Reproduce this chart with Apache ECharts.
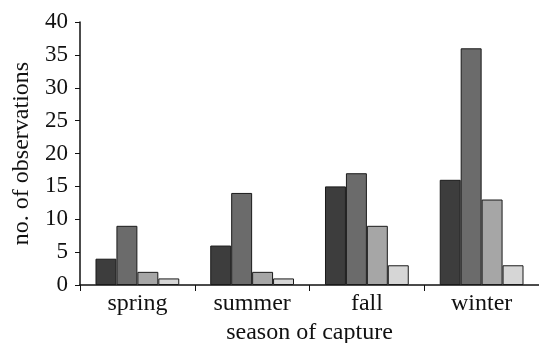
<!DOCTYPE html>
<html>
<head>
<meta charset="utf-8">
<script src="https://cdn.jsdelivr.net/npm/echarts@6/dist/echarts.min.js"></script>
<style>
  html, body { margin: 0; padding: 0; background: #fff; }
  #chart { width: 539px; height: 343px; }
</style>
</head>
<body>
<div id="chart"></div>
<script>
var seasons = ['spring', 'summer', 'fall', 'winter'];
var group1 = [4, 6, 15, 16];
var group2 = [9, 14, 17, 36];
var group3 = [2, 2, 9, 13];
var group4 = [1, 1, 3, 3];
var barColors = ['#3d3d3d', '#6b6b6b', '#a6a6a6', '#d6d6d6'];

var myChart = echarts.init(document.getElementById('chart'));
var font = 'Liberation Serif';

function makeBar(data, color) {
    return {
        type: 'bar',
        data: data,
        barGap: '0%',
        barCategoryGap: '27%',
        itemStyle: {
            color: color,
            borderColor: '#1a1a1a',
            borderWidth: 1
        }
    };
}

var option = {
    animation: false,
    backgroundColor: '#fff',
    grid: {
        left: 80,
        right: 0,
        top: 22,
        bottom: 58,
        containLabel: false,
        outerBoundsMode: 'none'
    },
    xAxis: {
        type: 'category',
        data: seasons,
        name: 'season of capture',
        nameLocation: 'middle',
        nameGap: 28,
        nameTextStyle: { fontFamily: font, fontSize: 24, color: '#111' },
        axisLine: { lineStyle: { color: '#111', width: 1.5 } },
        axisTick: { show: true, length: 6, lineStyle: { color: '#111' } },
        axisLabel: { fontFamily: font, fontSize: 24, color: '#111', margin: 7 }
    },
    yAxis: {
        type: 'value',
        min: 0,
        max: 40,
        interval: 5,
        name: 'no. of observations',
        nameLocation: 'middle',
        nameGap: 44,
        nameTextStyle: { fontFamily: font, fontSize: 24, color: '#111' },
        axisLine: { show: true, lineStyle: { color: '#111', width: 1.5 } },
        axisTick: { show: true, length: 5, lineStyle: { color: '#111' } },
        axisLabel: { fontFamily: font, fontSize: 23, color: '#111', margin: 12 },
        splitLine: { show: false }
    },
    series: [
        makeBar(group1, barColors[0]),
        makeBar(group2, barColors[1]),
        makeBar(group3, barColors[2]),
        makeBar(group4, barColors[3])
    ]
};
myChart.setOption(option);
</script>
</body>
</html>
